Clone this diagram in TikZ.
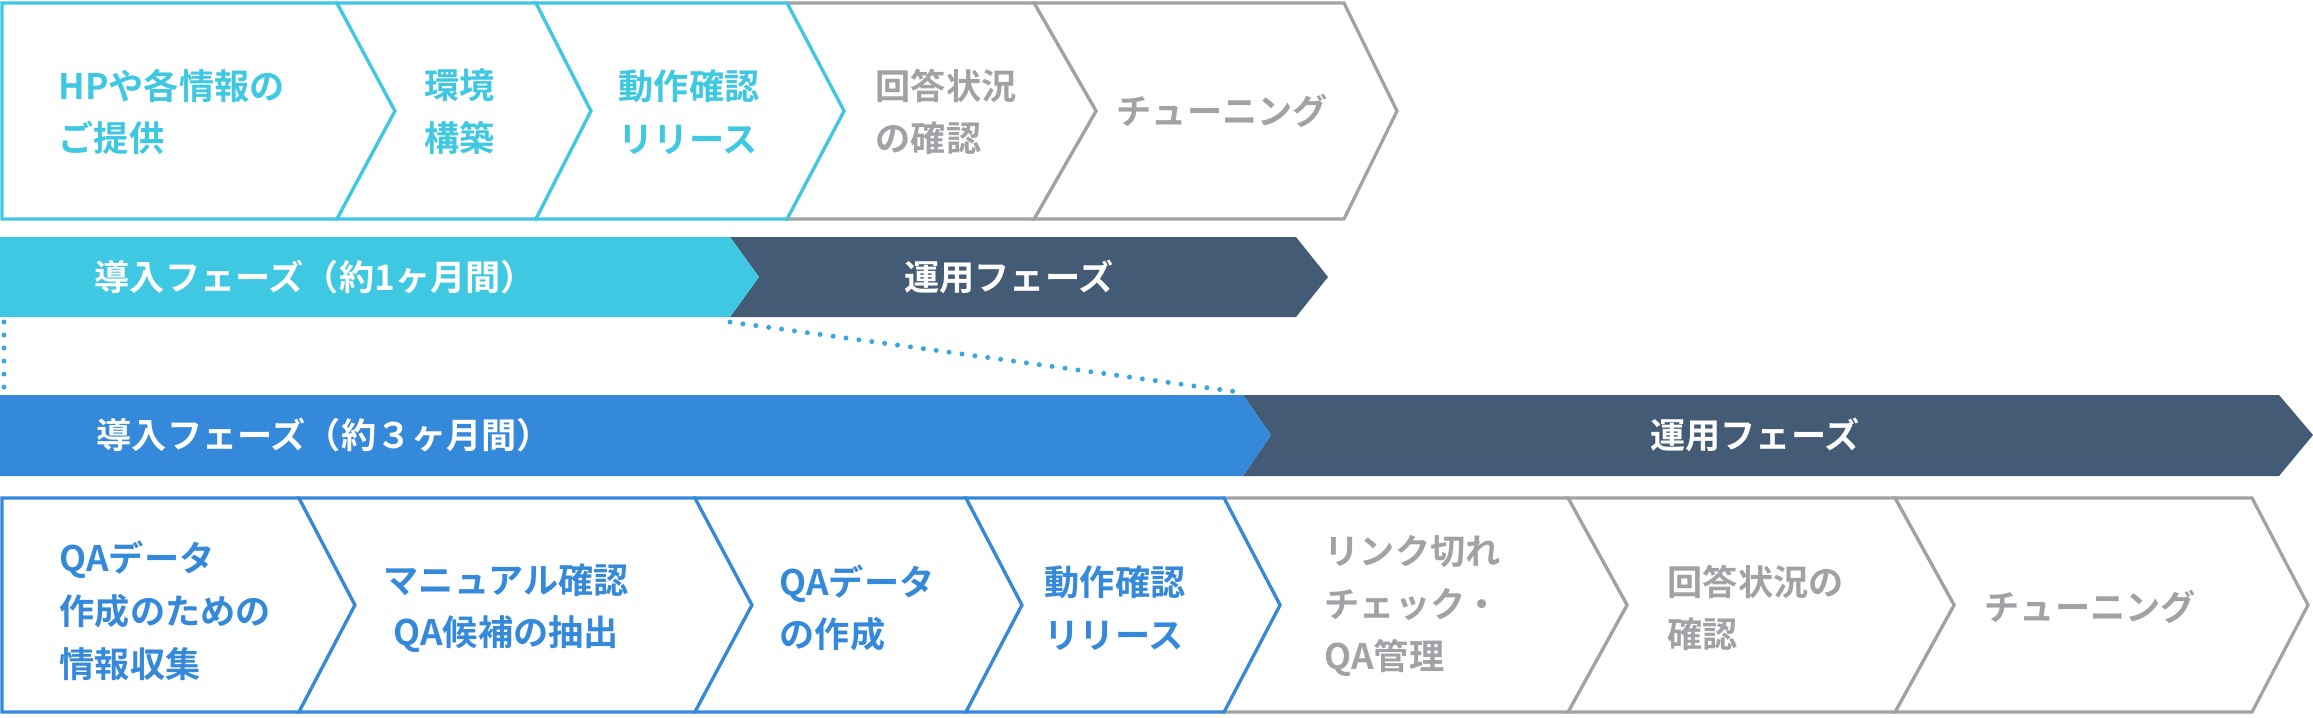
\documentclass[tikz,border=0pt]{standalone}
\usepackage{fontspec}
\newfontfamily\jpfont{Noto Sans CJK JP Bold}
\usepackage{xcolor}
\definecolor{cyanc}{HTML}{3EC8E2}
\definecolor{bluec}{HTML}{3589DB}
\definecolor{darkc}{HTML}{435B74}
\definecolor{greyc}{HTML}{A0A2A5}
\definecolor{dotc}{HTML}{3AA6E0}
\tikzset{
  steptext/.style={font=\jpfont\fontsize{10pt}{15pt}\selectfont, align=left, anchor=west, inner sep=0pt},
  phase/.style={font=\jpfont\fontsize{10pt}{15pt}\selectfont, text=white, inner sep=0pt},
  chev/.style={draw=#1, fill=white, line width=0.032cm, line join=miter},
}
% chevron: left top x, left tip x, right top x, right tip x, top y, mid y, bottom y, colour
\newcommand{\chevron}[8]{%
  \draw[chev=#8] (#1,#5) -- (#3,#5) -- (#4,#6) -- (#3,#7) -- (#1,#7) -- (#2,#6) -- cycle;}
\begin{document}
\begin{tikzpicture}[x=0.01cm, y=-0.01cm]
                \useasboundingbox (0,0) rectangle (2313,717);
                % Top row of steps
                \chevron{1034}{1096}{1344}{1397}{3}{111}{219}{greyc}
                \chevron{787}{844}{1034}{1096}{3}{111}{219}{greyc}
                \chevron{2}{2}{337}{395}{3}{111}{219}{cyanc}
                \chevron{337}{395}{536}{591}{3}{111}{219}{cyanc}
                \chevron{536}{591}{787}{844}{3}{111}{219}{cyanc}
                
                \node[steptext, text=cyanc] (hp) at (58, 112) {HPや各情報の\\ご提供};
                \node[steptext, text=cyanc] (env) at (424, 112) {環境\\構築};
                \node[steptext, text=cyanc] (check1) at (618, 112) {動作確認\\リリース};
                \node[steptext, text=greyc] (answer1) at (875, 112) {回答状況\\の確認};
                \node[steptext, text=greyc] (tune1) at (1116, 111) {チューニング};
                
                % Top phase bar
                \fill[darkc] (730,237) -- (1296,237) -- (1328,277) -- (1296,317) -- (730,317) -- (759,277) -- cycle;
                \fill[cyanc] (0,237) -- (730,237) -- (759,277) -- (730,317) -- (0,317) -- cycle;
                \node[phase, anchor=west] (intro1) at (94, 277) {導入フェーズ（約1ヶ月間）};
                \node[phase] (run1) at (1009, 277) {運用フェーズ};
                
                % Dotted guides
                \coordinate (d1a) at (4, 322);
                \coordinate (d1b) at (4, 392);
                \coordinate (d2a) at (730, 322);
                \coordinate (d2b) at (1238, 392);
                \draw[dotc, line width=0.05cm, line cap=round, dash pattern=on 0pt off 0.13cm] (d1a) -- (d1b);
                \draw[dotc, line width=0.05cm, line cap=round, dash pattern=on 0pt off 0.13cm] (d2a) -- (d2b);
                
                % Bottom phase bar
                \fill[darkc] (1243,395) -- (2279,395) -- (2313,435) -- (2279,476) -- (1243,476) -- (1271,435) -- cycle;
                \fill[bluec] (0,395) -- (1243,395) -- (1271,435) -- (1243,476) -- (0,476) -- cycle;
                \node[phase, anchor=west] (intro2) at (96, 435) {導入フェーズ（約３ヶ月間）};
                \node[phase] (run2) at (1755, 435) {運用フェーズ};
                
                % Bottom row of steps
                \chevron{1895}{1954}{2252}{2308}{498}{605}{712}{greyc}
                \chevron{1568}{1627}{1895}{1954}{498}{605}{712}{greyc}
                \chevron{1224}{1280}{1568}{1627}{498}{605}{712}{greyc}
                \chevron{2}{2}{299}{355}{498}{605}{712}{bluec}
                \chevron{299}{355}{695}{752}{498}{605}{712}{bluec}
                \chevron{695}{752}{966}{1022}{498}{605}{712}{bluec}
                \chevron{966}{1022}{1224}{1280}{498}{605}{712}{bluec}
                
                \node[steptext, text=bluec] (collect) at (59, 611) {QAデータ\\作成のための\\情報収集};
                \node[steptext, text=bluec, align=center] (manual) at (383, 608) {マニュアル確認\\QA候補の抽出};
                \node[steptext, text=bluec] (qadata) at (779, 608) {QAデータ\\の作成};
                \node[steptext, text=bluec] (check2) at (1044, 608) {動作確認\\リリース};
                \node[steptext, text=greyc] (link) at (1324, 606) {リンク切れ\\チェック・\\QA管理};
                \node[steptext, text=greyc] (answer2) at (1667, 608) {回答状況の\\確認};
                \node[steptext, text=greyc] (tune2) at (1984, 607) {チューニング};
            \end{tikzpicture}
\end{document}
